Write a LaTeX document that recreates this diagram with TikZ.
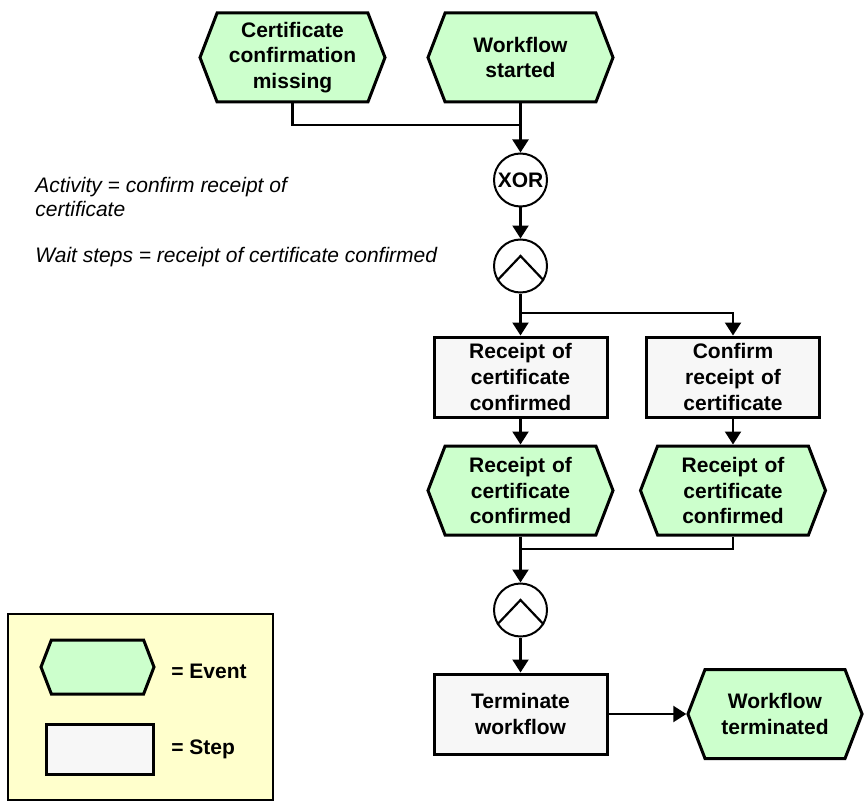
\documentclass[tikz,border=0pt]{standalone}
\usepackage{fontspec}
\setmainfont{Liberation Sans}
\usepackage{tikz}
\usetikzlibrary{shapes.geometric,shapes.symbols,arrows.meta,positioning}
\definecolor{evgreen}{RGB}{204,255,204}
\definecolor{stgray}{RGB}{247,247,247}
\definecolor{legyellow}{RGB}{255,255,204}

\begin{document}
\begin{tikzpicture}[x=0.5pt, y=-0.5pt,
    every node/.style={font=\fontsize{10.5}{12.8}\selectfont},
    evt/.style={signal, signal to=west and east, signal pointer angle=138, draw, line width=1.5pt,
      fill=evgreen, inner sep=0pt, minimum width=92.5pt, minimum height=44.5pt,
      text width=70pt, align=center, font=\fontsize{10.5}{12.8}\selectfont\bfseries},
    stepbox/.style={rectangle, draw, line width=1.5pt, fill=stgray, inner sep=0pt,
      minimum width=86.5pt, minimum height=40pt, text width=62pt, align=center,
      font=\fontsize{10.5}{12.8}\selectfont\bfseries},
    gate/.style={circle, draw, line width=1pt, inner sep=0pt, minimum size=26.5pt,
      font=\fontsize{10.5}{12.8}\selectfont\bfseries},
    conn/.style={line width=1.1pt},
    arr/.style={conn, -{Triangle[length=6.5pt, width=8pt]}},
    note/.style={font=\fontsize{10.5}{12.8}\selectfont\itshape, align=left, inner sep=0pt}]
  \useasboundingbox (0,0) rectangle (866,802);
  % Nodes
  \node (ev-0) [evt] at (292.5, 57.5) {Certificate confirmation missing};
  \node (ev-1) [evt] at (520.5, 57.5) {Workflow started};
  \node (xor) [gate] at (520.5, 180) {XOR};
  \node (and-0) [gate] at (520.5, 266) {};
  \node (st-0) [stepbox] at (520.5, 377) {Receipt of certificate confirmed};
  \node (st-1) [stepbox] at (733, 377) {Confirm receipt of certificate};
  \node (ev-2) [evt] at (520.5, 490.5) {Receipt of certificate confirmed};
  \node (ev-3) [evt] at (733, 490.5) {Receipt of certificate confirmed};
  \node (and-1) [gate] at (520.5, 610) {};
  \node (st-2) [stepbox] at (520.5, 714) {Terminate workflow};
  \node (ev-4) [evt, minimum width=87pt] at (775, 714) {Workflow terminated};
  \coordinate (join) at (520.5, 125);
  \coordinate (split) at (520.5, 313);
  \coordinate (merge) at (520.5, 549);
  % AND marks
  \draw[conn] (and-0.212) -- ([yshift=5pt]and-0.center) -- (and-0.328);
  \draw[conn] (and-1.212) -- ([yshift=5pt]and-1.center) -- (and-1.328);
  % Arrow
  \draw[conn] (ev-0.south) |- (join);
  \draw[arr] (ev-1.south) -- (xor.north);
  \draw[arr] (xor.south) -- (and-0.north);
  \draw[arr] (and-0.south) -- (st-0.north);
  \draw[arr] (split) -| (st-1.north);
  \draw[arr] (st-0.south) -- (ev-2.north);
  \draw[arr] (st-1.south) -- (ev-3.north);
  \draw[arr] (ev-2.south) -- (and-1.north);
  \draw[conn] (ev-3.south) |- (merge);
  \draw[arr] (and-1.south) -- (st-2.north);
  \draw[arr] (st-2.east) -- (ev-4.west);
  % Header
  \node (txt-0) [note, anchor=base west] at (35, 192) {Activity = confirm receipt of};
  \node (txt-1) [note, anchor=base west] at (35, 217) {certificate};
  \node (txt-2) [note, anchor=base west] at (35, 262) {Wait steps = receipt of certificate confirmed};
  % Legend
  \node (leg) [rectangle, draw, line width=0.75pt, fill=legyellow, minimum width=132.5pt,
    minimum height=93pt, inner sep=0pt] at (140.5, 707) {};
  \node (leg-ev) [evt, minimum width=56.5pt, minimum height=27pt, text width=40pt] at (97.5, 667) {};
  \node (leg-st) [stepbox, minimum width=53.5pt, minimum height=25pt, text width=40pt] at (99.5, 749) {};
  \node (leg-ev-txt) [anchor=west, inner sep=0pt, font=\fontsize{10.5}{12.8}\selectfont\bfseries] at (171, 671) {= Event};
  \node (leg-st-txt) [anchor=west, inner sep=0pt, font=\fontsize{10.5}{12.8}\selectfont\bfseries] at (171, 749) {= Step};
\end{tikzpicture}
\end{document}
